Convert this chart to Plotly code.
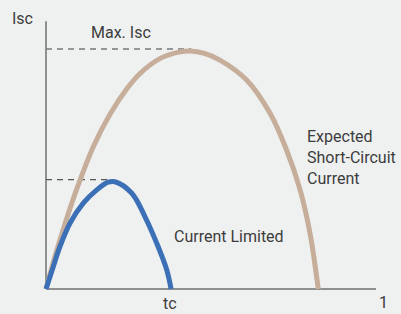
import plotly.graph_objects as go

# ---- data (time as fraction of the window, current normalised to Max. Isc) ----
expected_t = [0.0, 0.027, 0.063, 0.098, 0.143, 0.194, 0.245, 0.285, 0.345, 0.406, 0.436,
              0.480, 0.527, 0.608, 0.679, 0.729, 0.770, 0.800, 0.825]
expected_i = [0.0, 0.135, 0.295, 0.435, 0.592, 0.728, 0.834, 0.898, 0.960, 0.988, 0.992,
              0.982, 0.954, 0.871, 0.732, 0.579, 0.413, 0.232, 0.0]

limited_t = [0.0, 0.022, 0.042, 0.073, 0.113, 0.154, 0.188, 0.209, 0.260, 0.300,
             0.340, 0.366, 0.379]
limited_i = [0.0, 0.093, 0.176, 0.275, 0.358, 0.413, 0.445, 0.447, 0.399, 0.301,
             0.176, 0.079, 0.0]

max_isc = 1.0
max_isc_t = 0.44
limited_peak = 0.456
limited_peak_t = 0.185
axis_x_max = 1.0
axis_y_max = 1.116

TAN = "#c6ae9b"
BLUE = "#3b6fb6"
AXIS = "#8f9091"
TXT = "#3d3d3d"
BG = "#eff0f0"
FONT = "Roboto"

fig = go.Figure()
fig.add_trace(go.Scatter(x=expected_t, y=expected_i, mode="lines",
                         line=dict(color=TAN, width=5, shape="spline", smoothing=1.0),
                         hoverinfo="skip", showlegend=False))
fig.add_trace(go.Scatter(x=limited_t, y=limited_i, mode="lines",
                         line=dict(color=BLUE, width=5, shape="spline", smoothing=1.0),
                         hoverinfo="skip", showlegend=False))

shapes = [
    dict(type="line", x0=0, y0=0, x1=0, y1=axis_y_max, line=dict(color=AXIS, width=2), layer="below"),
    dict(type="line", x0=0, y0=0, x1=axis_x_max, y1=0, line=dict(color=AXIS, width=2), layer="below"),
    dict(type="line", x0=0, y0=max_isc, x1=max_isc_t, y1=max_isc,
         line=dict(color="#77787a", width=1.5, dash="6px,5px"), layer="below"),
    dict(type="line", x0=0, y0=limited_peak, x1=limited_peak_t, y1=limited_peak,
         line=dict(color="#555657", width=1.2, dash="6px,5px"), layer="below"),
]

W, H = 401, 314
def ann(text, px, py, xanchor="center", align="center", size=16):
    return dict(text=text, x=px / W, y=1 - py / H, xref="paper", yref="paper",
                xanchor=xanchor, yanchor="middle", align=align, showarrow=False,
                font=dict(family=FONT, size=size, color=TXT))

annotations = [
    ann("Isc", 22, 19),
    ann("Max. Isc", 121, 33),
    ann("Expected<br>Short-Circuit<br>Current", 305, 157, xanchor="left", align="left"),
    ann("Current Limited", 172, 236, xanchor="left", align="left"),
    ann("tc", 170, 303),
    ann("1", 383, 302),
]

fig.update_layout(
    width=W, height=H,
    margin=dict(l=0, r=0, t=0, b=0),
    paper_bgcolor=BG, plot_bgcolor=BG,
    xaxis=dict(range=[-46 / 330, 355 / 330], visible=False, fixedrange=True),
    yaxis=dict(range=[-25 / 240, 289 / 240], visible=False, fixedrange=True),
    shapes=shapes, annotations=annotations,
)

fig.write_html("out.html", config={"displayModeBar": False, "staticPlot": True},
               post_script="document.body.style.margin='0';document.body.style.padding='0';"
                           "document.body.style.background='" + BG + "';")
